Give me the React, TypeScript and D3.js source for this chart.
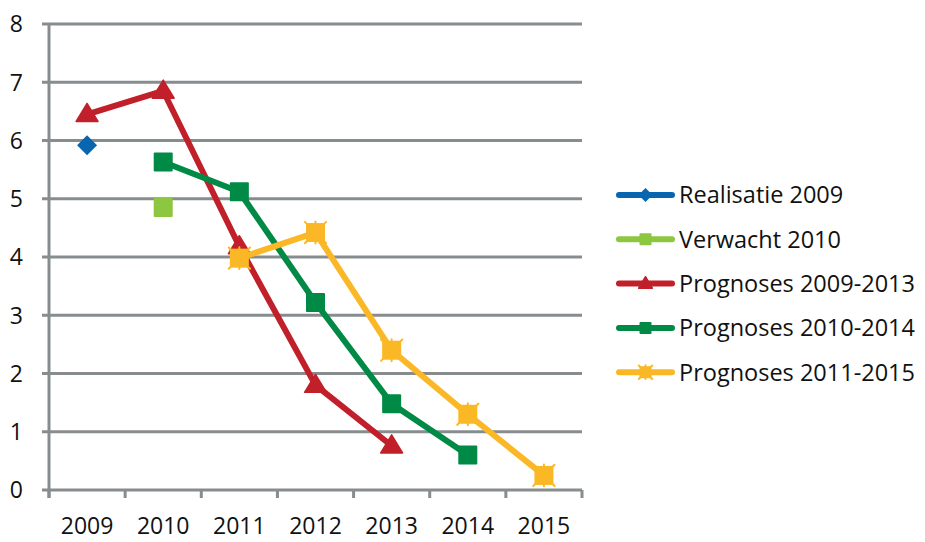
import * as d3 from "d3";

const years = ["2009", "2010", "2011", "2012", "2013", "2014", "2015"];
const yTicks = [0, 1, 2, 3, 4, 5, 6, 7, 8];

const realisatie2009 = [{ year: "2009", value: 5.92 }];
const verwacht2010 = [{ year: "2010", value: 4.85 }];
const prognoses0913 = [
  { year: "2009", value: 6.45 },
  { year: "2010", value: 6.85 },
  { year: "2011", value: 4.18 },
  { year: "2012", value: 1.8 },
  { year: "2013", value: 0.76 },
];
const prognoses1014 = [
  { year: "2010", value: 5.63 },
  { year: "2011", value: 5.12 },
  { year: "2012", value: 3.22 },
  { year: "2013", value: 1.48 },
  { year: "2014", value: 0.6 },
];
const prognoses1115 = [
  { year: "2011", value: 3.98 },
  { year: "2012", value: 4.42 },
  { year: "2013", value: 2.4 },
  { year: "2014", value: 1.3 },
  { year: "2015", value: 0.25 },
];

type Pt = { year: string; value: number };
type Marker = "diamond" | "square" | "triangle" | "star";

const series: { name: string; color: string; marker: Marker; data: Pt[] }[] = [
  { name: "Realisatie 2009", color: "#0866b0", marker: "diamond", data: realisatie2009 },
  { name: "Verwacht 2010", color: "#8dc63f", marker: "square", data: verwacht2010 },
  { name: "Prognoses 2009-2013", color: "#c1202a", marker: "triangle", data: prognoses0913 },
  { name: "Prognoses 2010-2014", color: "#008a45", marker: "square", data: prognoses1014 },
  { name: "Prognoses 2011-2015", color: "#fbb826", marker: "star", data: prognoses1115 },
];

const grid = "#878d8f";
const font = "'Open Sans', sans-serif";

function MarkerShape({ type, x, y, color, s }: { type: Marker; x: number; y: number; color: string; s: number }) {
  if (type === "diamond") {
    return <path d={`M${x},${y - s}L${x + s},${y}L${x},${y + s}L${x - s},${y}Z`} fill={color} />;
  }
  if (type === "triangle") {
    const h = s * 1.9;
    return <path d={`M${x},${y - h * 0.6}L${x + s * 1.15},${y + h * 0.4}L${x - s * 1.15},${y + h * 0.4}Z`} fill={color} strokeLinejoin="round" stroke={color} strokeWidth={1.5} />;
  }
  if (type === "star") {
    return (
      <g>
        <rect x={x - s} y={y - s} width={s * 2} height={s * 2} fill={color} />
        <path
          d={`M${x - s * 1.12},${y - s * 1.12}L${x + s * 1.12},${y + s * 1.12}M${x + s * 1.12},${y - s * 1.12}L${x - s * 1.12},${y + s * 1.12}M${x},${y - s * 1.15}L${x},${y + s * 1.15}`}
          stroke={color}
          strokeWidth={2}
          strokeLinecap="round"
        />
      </g>
    );
  }
  return <rect x={x - s} y={y - s} width={s * 2} height={s * 2} fill={color} rx={1} />;
}

export default function App() {
  const width = 925;
  const height = 542;
  const left = 49;
  const right = 582;
  const top = 24;
  const bottom = 490;

  const x = d3.scaleBand<string>().domain(years).range([left, right]);
  const y = d3.scaleLinear().domain([0, 8]).range([bottom, top]);
  const cx = (d: Pt) => (x(d.year) ?? 0) + x.bandwidth() / 2;

  const line = d3
    .line<Pt>()
    .x(cx)
    .y((d) => y(d.value));

  const ticksX = [...years.map((yr) => x(yr) ?? 0), right];

  return (
    <svg width={width} height={height} style={{ position: "absolute", left: 0, top: 0, background: "#fff" }}>
      {yTicks.map((t) => (
        <g key={t}>
          <line x1={left - 7} x2={right} y1={y(t)} y2={y(t)} stroke={grid} strokeWidth={3} />
          <text x={23} y={y(t)} dy="0.36em" textAnchor="end" fontFamily={font} fontSize={23} fill="#111">
            {t}
          </text>
        </g>
      ))}
      <line x1={left} x2={left} y1={top - 1} y2={bottom + 8} stroke={grid} strokeWidth={3} />
      {ticksX.map((tx, i) => (
        <line key={i} x1={tx} x2={tx} y1={bottom} y2={bottom + 8} stroke={grid} strokeWidth={3} />
      ))}
      {years.map((yr) => (
        <text key={yr} x={(x(yr) ?? 0) + x.bandwidth() / 2} y={534} textAnchor="middle" fontFamily={font} fontSize={23} fill="#111">
          {yr}
        </text>
      ))}
      {series.map((s) => (
        <g key={s.name}>
          {s.data.length > 1 && (
            <path d={line(s.data) ?? ""} fill="none" stroke={s.color} strokeWidth={6} strokeLinejoin="round" />
          )}
          {s.data.map((d) => (
            <MarkerShape key={d.year} type={s.marker} x={cx(d)} y={y(d.value)} color={s.color} s={s.marker === "diamond" ? 10 : 9.5} />
          ))}
        </g>
      ))}
      {series.map((s, i) => {
        const ly = 195 + i * 44.3;
        return (
          <g key={s.name}>
            <line x1={619} x2={672} y1={ly} y2={ly} stroke={s.color} strokeWidth={6} strokeLinecap="round" />
            <MarkerShape type={s.marker} x={645.5} y={ly} color={s.color} s={s.marker === "diamond" ? 7 : 6} />
            <text x={679} y={ly} dy="0.36em" fontFamily={font} fontSize={23.5} fill="#111">
              {s.name}
            </text>
          </g>
        );
      })}
    </svg>
  );
}
